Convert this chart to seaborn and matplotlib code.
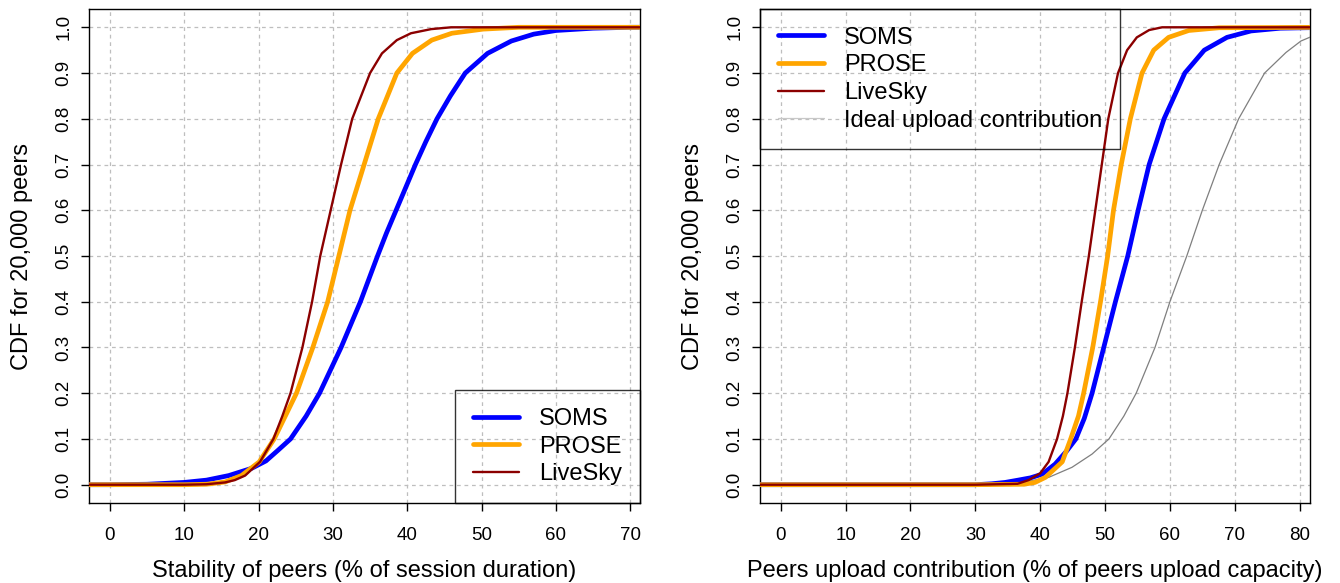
import numpy as np
import pandas as pd
import matplotlib
matplotlib.use("Agg")
import matplotlib.pyplot as plt
import seaborn as sns

# ---------------- data ----------------
# Left panel: stability of peers (% of session duration)
stab_soms_x = [-5, 0, 5, 10, 13, 16, 19.1, 21.0, 22.6, 24.3, 26.4, 28.2, 31.1, 33.7, 36.0, 37.2, 38.5,
               39.8, 41.1, 42.5, 44.0, 45.8, 47.8, 50.8, 54.0, 57.0, 60.0, 65.0, 70, 75]
stab_soms_y = [0, 0, 0.001, 0.005, 0.01, 0.02, 0.036, 0.052, 0.075, 0.1, 0.15, 0.2, 0.3, 0.4, 0.5, 0.55, 0.6,
               0.65, 0.7, 0.75, 0.8, 0.85, 0.9, 0.943, 0.97, 0.985, 0.993, 0.998, 1.0, 1.0]

stab_prose_x = [-5, 0, 10, 13, 15.5, 17.7, 20.1, 22.1, 23.6, 25.1, 27.3, 29.3, 30.8, 32.3, 34.2,
                36.1, 38.6, 40.7, 43.3, 46.0, 50.2, 55, 75]
stab_prose_y = [0, 0, 0, 0.001, 0.006, 0.02, 0.05, 0.1, 0.15, 0.2, 0.3, 0.4, 0.5, 0.6, 0.7,
                0.8, 0.9, 0.943, 0.972, 0.987, 0.996, 1.0, 1.0]

stab_live_x = [-5, 0, 10, 13, 15.5, 16.8, 18.2, 20.2, 22.0, 23.2, 24.3, 25.9, 27.2, 28.3, 29.7,
               31.1, 32.6, 35.0, 36.6, 38.6, 40.5, 43.2, 45.9, 75]
stab_live_y = [0, 0, 0, 0.001, 0.005, 0.01, 0.02, 0.05, 0.1, 0.15, 0.2, 0.3, 0.4, 0.5, 0.6,
               0.7, 0.8, 0.9, 0.943, 0.972, 0.987, 0.996, 1.0, 1.0]

# Right panel: peers upload contribution (% of peers upload capacity)
up_soms_x = [-5, 0, 30, 32.5, 34.6, 36.6, 38.5, 40.3, 42.3, 44.1, 45.5, 46.8, 48.0, 49.8, 51.6,
             53.5, 55.1, 56.8, 59.1, 62.3, 65.3, 68.8, 72.5, 77, 85]
up_soms_y = [0, 0, 0, 0.002, 0.005, 0.01, 0.015, 0.023, 0.045, 0.074, 0.1, 0.145, 0.2, 0.3, 0.4,
             0.5, 0.6, 0.7, 0.8, 0.9, 0.95, 0.978, 0.992, 0.998, 1.0]

up_prose_x = [-5, 0, 30, 37.5, 39.2, 40.8, 43.4, 44.7, 45.9, 46.7, 48.1, 49.3, 50.4, 51.3, 52.5,
              53.9, 55.7, 57.5, 59.8, 62.9, 67.6, 85]
up_prose_y = [0, 0, 0, 0.001, 0.005, 0.016, 0.05, 0.1, 0.15, 0.2, 0.3, 0.4, 0.5, 0.6, 0.7,
              0.8, 0.9, 0.95, 0.978, 0.993, 0.999, 1.0]

up_live_x = [-5, 0, 30, 36.5, 38.2, 40.0, 41.3, 42.6, 43.5, 44.2, 45.35, 46.4, 47.5, 48.5, 49.5,
             50.5, 52.0, 53.4, 54.9, 56.8, 58.8, 85]
up_live_y = [0, 0, 0, 0.002, 0.01, 0.025, 0.05, 0.1, 0.15, 0.2, 0.3, 0.4, 0.5, 0.6, 0.7,
             0.8, 0.9, 0.95, 0.978, 0.994, 1.0, 1.0]

up_ideal_x = [-5, 0, 30, 35.6, 38.7, 41.3, 44.9, 48.0, 50.6, 52.9, 54.8, 57.7, 60.0, 62.6,
              65.0, 67.6, 70.6, 74.6, 77.9, 80.2, 82.2]
up_ideal_y = [0, 0, 0, 0.003, 0.009, 0.016, 0.038, 0.067, 0.1, 0.15, 0.2, 0.3, 0.4, 0.5,
              0.6, 0.7, 0.8, 0.9, 0.945, 0.97, 0.982]

series_names = ["SOMS", "PROSE", "LiveSky", "Ideal upload contribution"]
x_ticks_left = list(range(0, 71, 10))
x_ticks_right = list(range(0, 81, 10))
y_ticks = [round(0.1 * i, 1) for i in range(11)]

xlabel_left = "Stability of peers (% of session duration)"
xlabel_right = "Peers upload contribution (% of peers upload capacity)"
ylabel = "CDF for 20,000 peers"

# ---------------- styling ----------------
sns.set_style("ticks")
plt.rcParams["font.family"] = ["Liberation Sans", "DejaVu Sans"]
plt.rcParams["text.color"] = "black"
plt.rcParams["axes.labelcolor"] = "black"
plt.rcParams["xtick.color"] = "black"
plt.rcParams["ytick.color"] = "black"

colors = {"SOMS": "#0000FF", "PROSE": "#FFA500", "LiveSky": "#8B0000",
          "Ideal upload contribution": "#7F7F7F"}
widths = {"SOMS": 3.4, "PROSE": 3.4, "LiveSky": 1.7, "Ideal upload contribution": 0.9}

fig = plt.figure(figsize=(13.4, 5.83), dpi=100)
axL = fig.add_axes([89 / 1340, 1 - 503 / 583, 551 / 1340, 494 / 583])
axR = fig.add_axes([760 / 1340, 1 - 503 / 583, 550 / 1340, 494 / 583])


def draw(ax, data, xlim, xticks, xlabel):
    for name, xs, ys in data:
        df = pd.DataFrame({"x": xs, "y": ys})
        sns.lineplot(data=df, x="x", y="y", ax=ax, color=colors[name],
                     linewidth=widths[name], label=name, sort=False,
                     estimator=None, zorder=3 if name != "LiveSky" else 4)
    ax.set_xlim(*xlim)
    ax.set_ylim(-0.04, 1.04)
    ax.set_xticks(xticks)
    ax.set_yticks(y_ticks)
    ax.set_yticklabels([f"{v:.1f}" for v in y_ticks], rotation=90, va="center")
    ax.grid(True, color="#BEBEBE", linestyle=(0, (3, 3)), linewidth=0.9)
    ax.set_axisbelow(True)
    for s in ax.spines.values():
        s.set_visible(True)
        s.set_color("black")
        s.set_linewidth(1.0)
    ax.tick_params(axis="both", direction="out", length=6, width=1,
                   labelsize=13.5, color="black", pad=6)
    ax.tick_params(axis="x", pad=11)
    ax.set_xlabel(xlabel, fontsize=17, labelpad=12)
    ax.set_ylabel(ylabel, fontsize=17, labelpad=16)


draw(axL, [("SOMS", stab_soms_x, stab_soms_y),
           ("PROSE", stab_prose_x, stab_prose_y),
           ("LiveSky", stab_live_x, stab_live_y)],
     (-2.8, 71.3), x_ticks_left, xlabel_left)

draw(axR, [("Ideal upload contribution", up_ideal_x, up_ideal_y),
           ("SOMS", up_soms_x, up_soms_y),
           ("PROSE", up_prose_x, up_prose_y),
           ("LiveSky", up_live_x, up_live_y)],
     (-3.2, 81.6), x_ticks_right, xlabel_right)


def style_legend(ax, order, loc, anchor):
    handles, labels = ax.get_legend_handles_labels()
    hmap = dict(zip(labels, handles))
    hs = [hmap[n] for n in order]
    leg = ax.legend(hs, order, loc=loc, bbox_to_anchor=anchor,
                    borderaxespad=0, fontsize=17, frameon=True, fancybox=False,
                    handlelength=1.95, handletextpad=0.85, borderpad=0.75,
                    labelspacing=0.24)
    fr = leg.get_frame()
    fr.set_edgecolor("black")
    fr.set_facecolor("none")
    fr.set_linewidth(1.0)
    for line, name in zip(leg.get_lines(), order):
        if name == "Ideal upload contribution":
            line.set_color("#C8C8C8")
    return leg


style_legend(axL, ["SOMS", "PROSE", "LiveSky"], "lower right", (1, 0))
style_legend(axR, ["SOMS", "PROSE", "LiveSky", "Ideal upload contribution"],
             "upper left", (0, 1))

fig.savefig("out.png", dpi=100)
